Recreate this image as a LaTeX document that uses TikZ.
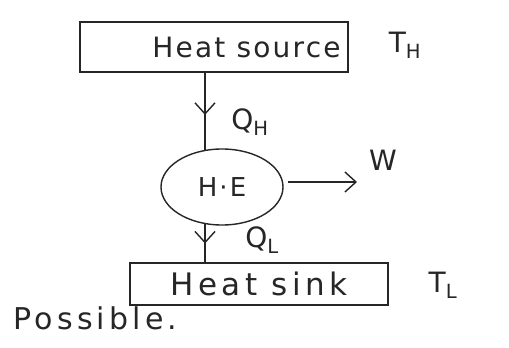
\documentclass[tikz,border=0pt]{standalone}
\usepackage{fontspec}
\setmainfont{DejaVu Sans}
\newfontfamily\hand[LetterSpace=8]{DejaVu Sans}
\newfontfamily\handwide[LetterSpace=14]{DejaVu Sans}
\usetikzlibrary{shapes.geometric,decorations.markings,arrows.meta}
\begin{document}
\begin{tikzpicture}[x=1pt,y=-1pt,
  ink/.style={draw=black!85,line width=1.4pt},
  reservoir/.style={ink,rectangle,inner sep=0pt,text=black!85},
  label/.style={font=\hand\fontsize{28}{30}\selectfont,text=black!85},
  handtip/.tip={Straight Barb[length=11pt,width=20pt,line width=1.4pt]},
  midarrow/.style={postaction={decorate},decoration={markings,mark=at position #1 with {\arrow{handtip}}}}
]
\useasboundingbox (0,0) rectangle (509,348);
\fill[white] (0,0) rectangle (509,348);
\node[reservoir,minimum width=268,minimum height=50,font=\hand\fontsize{28}{30}\selectfont] (src) at (214,47) {\hspace{65pt}Heat source};
\node[label] (th) at (405,45) {T\textsubscript{H}};
\node[ink,ellipse,minimum width=122,minimum height=76,inner sep=0pt,text=black!85,font=\hand\fontsize{26}{28}\selectfont] (he) at (222,187) {H·E};
\node[reservoir,minimum width=258,minimum height=42,font=\handwide\fontsize{31}{33}\selectfont] (sink) at (259,284) {Heat sink};
\node[label] (tl) at (443,285) {T\textsubscript{L}};
\node[label] (qh) at (250,122) {Q\textsubscript{H}};
\node[label] (ql) at (262,240) {Q\textsubscript{L}};
\node[label] (w) at (383,160) {W};
\node[label,anchor=west,font=\handwide\fontsize{30}{32}\selectfont] (poss) at (10,318) {Possible.};
\coordinate (srcb) at (205,72);
\coordinate (het) at (205,150);
\coordinate (heb) at (205,224);
\coordinate (sinkt) at (205,263);
\coordinate (wend) at (357,182);
\draw[ink,midarrow=0.55] (srcb) -- (het);
\draw[ink,midarrow=0.5] (heb) -- (sinkt);
\draw[ink,-{handtip}] (he.east |- wend) ++(4,0) -- (wend);
\end{tikzpicture}
\end{document}
